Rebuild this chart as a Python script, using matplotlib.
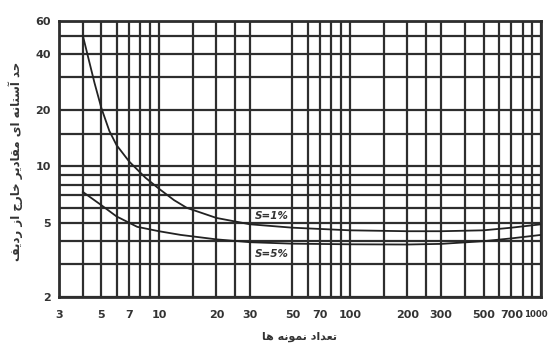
import matplotlib
matplotlib.use("Agg")
import matplotlib.pyplot as plt
import matplotlib.transforms as mtransforms
from matplotlib.ticker import FixedLocator, NullFormatter, FixedFormatter

# ---------------- data ----------------
x_s1 = [4, 4.3, 4.6, 5, 5.5, 6, 7, 8.5, 10, 12, 14, 20, 30, 50, 100, 200, 300, 500, 700, 1000]
y_s1 = [50, 37, 28, 20.5, 15.5, 13, 10.6, 8.7, 7.6, 6.6, 6.0, 5.3, 4.9, 4.7, 4.55, 4.5, 4.5, 4.55, 4.7, 4.9]

x_s5 = [4, 5, 6, 7.7, 10, 13, 20, 30, 50, 100, 200, 300, 500, 700, 1000]
y_s5 = [7.3, 6.2, 5.4, 4.75, 4.5, 4.3, 4.07, 3.93, 3.86, 3.83, 3.82, 3.85, 3.98, 4.12, 4.3]

x_tick_labels = [3, 5, 7, 10, 20, 30, 50, 70, 100, 200, 300, 500, 700, 1000]
x_grid_extra = [4, 6, 8, 9, 15, 25, 60, 80, 90, 150, 250, 400, 600, 800, 900]
y_tick_labels = [2, 5, 10, 20, 40, 60]
y_grid_extra = [3, 4, 6, 7, 8, 9, 15, 30, 50]

label_s1 = "S=1%"
label_s5 = "S=5%"
xlabel_fa = "تعداد نمونه ها"
ylabel_fa = "حد آستانه ای مقادیر خارج از ردیف"

# ------------- minimal Persian shaping -------------
FORMS = {  # iso, fin, ini, med
    'ا': ('\uFE8D', '\uFE8E', None, None),
    'آ': ('\uFE81', '\uFE82', None, None),
    'د': ('\uFEA9', '\uFEAA', None, None),
    'ر': ('\uFEAD', '\uFEAE', None, None),
    'ز': ('\uFEAF', '\uFEB0', None, None),
    'و': ('\uFEED', '\uFEEE', None, None),
    'ت': ('\uFE95', '\uFE96', '\uFE97', '\uFE98'),
    'ج': ('\uFE9D', '\uFE9E', '\uFE9F', '\uFEA0'),
    'ح': ('\uFEA1', '\uFEA2', '\uFEA3', '\uFEA4'),
    'خ': ('\uFEA5', '\uFEA6', '\uFEA7', '\uFEA8'),
    'س': ('\uFEB1', '\uFEB2', '\uFEB3', '\uFEB4'),
    'ع': ('\uFEC9', '\uFECA', '\uFECB', '\uFECC'),
    'ف': ('\uFED1', '\uFED2', '\uFED3', '\uFED4'),
    'ق': ('\uFED5', '\uFED6', '\uFED7', '\uFED8'),
    'ل': ('\uFEDD', '\uFEDE', '\uFEDF', '\uFEE0'),
    'م': ('\uFEE1', '\uFEE2', '\uFEE3', '\uFEE4'),
    'ن': ('\uFEE5', '\uFEE6', '\uFEE7', '\uFEE8'),
    'ه': ('\uFEE9', '\uFEEA', '\uFEEB', '\uFEEC'),
    'ی': ('\uFEEF', '\uFEF0', '\uFEF3', '\uFEF4'),
}


def shape(text):
    out = []
    n = len(text)
    for i, ch in enumerate(text):
        if ch not in FORMS:
            out.append(ch)
            continue
        f = FORMS[ch]
        prev = text[i - 1] if i > 0 else None
        nxt = text[i + 1] if i < n - 1 else None
        join_prev = prev in FORMS and FORMS[prev][2] is not None
        join_next = f[2] is not None and nxt in FORMS
        if join_prev and join_next:
            out.append(f[3])
        elif join_prev:
            out.append(f[1])
        elif join_next:
            out.append(f[2])
        else:
            out.append(f[0])
    return ''.join(reversed(out))


# ---------------- figure ----------------
fig = plt.figure(figsize=(5.49, 3.47), dpi=100)
fig.patch.set_facecolor("white")
ax = fig.add_axes([0.1075, 0.144, 0.878, 0.7955])
ax.set_xscale("log")
ax.set_yscale("log")
ax.set_xlim(3, 1000)
ax.set_ylim(2, 60)

gridc = "#2e2e2e"
ax.xaxis.set_major_locator(FixedLocator(x_tick_labels))
ax.xaxis.set_major_formatter(FixedFormatter([str(v) for v in x_tick_labels]))
ax.xaxis.set_minor_locator(FixedLocator(x_grid_extra))
ax.xaxis.set_minor_formatter(NullFormatter())
ax.yaxis.set_major_locator(FixedLocator(y_tick_labels))
ax.yaxis.set_major_formatter(FixedFormatter([str(v) for v in y_tick_labels]))
ax.yaxis.set_minor_locator(FixedLocator(y_grid_extra))
ax.yaxis.set_minor_formatter(NullFormatter())

ax.grid(True, which="both", color=gridc, linewidth=1.6)
ax.tick_params(which="both", length=0, colors="#333333")
ax.tick_params(axis="x", pad=9, labelsize=8)
ax.tick_params(axis="y", pad=6, labelsize=8)
for lab in ax.get_xticklabels() + ax.get_yticklabels():
    lab.set_fontweight("bold")
xl = ax.get_xticklabels()
xl[-1].set_fontsize(6.2)
xl[-1].set_horizontalalignment("center")
xl[-1].set_transform(xl[-1].get_transform() +
                     mtransforms.ScaledTranslation(-5 / 100, 0, fig.dpi_scale_trans))
for s in ax.spines.values():
    s.set_color(gridc)
    s.set_linewidth(2)

ax.plot(x_s1, y_s1, color="#222222", linewidth=1.3, zorder=3)
ax.plot(x_s5, y_s5, color="#222222", linewidth=1.3, zorder=3)

ax.text(39, 5.45, label_s1, fontsize=7.5, fontweight="bold", style="italic",
        ha="center", va="center", color="#333333", zorder=4,
        bbox=dict(facecolor="white", edgecolor="none", pad=0.5))
ax.text(39, 3.4, label_s5, fontsize=7.5, fontweight="bold", style="italic",
        ha="center", va="center", color="#333333", zorder=4,
        bbox=dict(facecolor="white", edgecolor="none", pad=0.5))

fig.text(0.545, 0.03, shape(xlabel_fa), fontsize=8, fontweight="bold",
         ha="center", va="center", color="#333333", family="DejaVu Sans")
fig.text(0.028, 0.535, shape(ylabel_fa), fontsize=8.5, fontweight="bold",
         ha="center", va="center", rotation=90, color="#333333", family="DejaVu Sans")

fig.savefig("out.png", dpi=100, facecolor="white")
